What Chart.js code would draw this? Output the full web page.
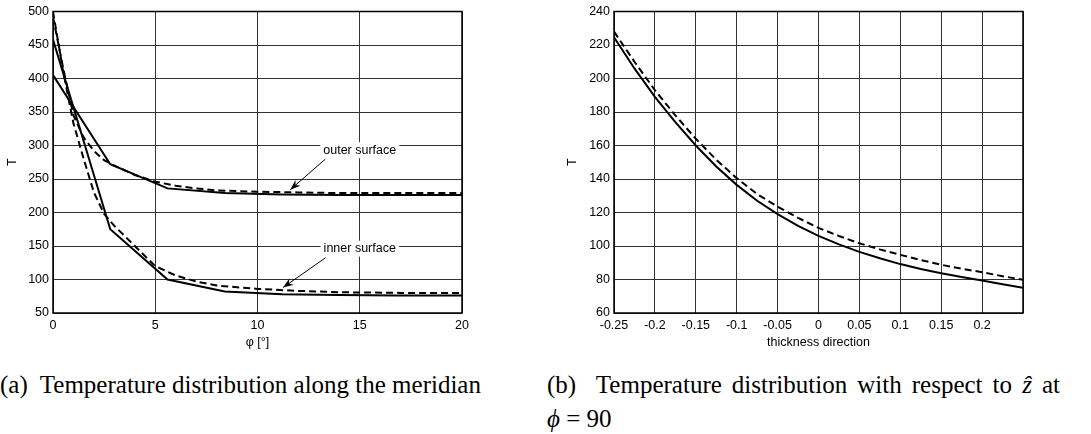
<!DOCTYPE html>
<html lang="en">
<head>
    <meta charset="UTF-8">
    <title>Temperature distribution</title>
    <script src="https://cdn.jsdelivr.net/npm/chart.js"></script>
    <style>
        body { margin: 0; background: #fff; width: 1091px; height: 434px; position: relative; overflow: hidden; }
        canvas { position: absolute; top: 0; }
        #chartA { left: 0; }
        #chartB { left: 560px; }
        .cap { position: absolute; font-family: "Liberation Serif", "Times New Roman", serif; font-size: 25px; line-height: 25px; color: #000; white-space: nowrap; }
        #capA { left: 0; top: 372px; }
        #capB1 { left: 547px; top: 372px; width: 513px; text-align: justify; text-align-last: justify; }
        #capB2 { left: 547px; top: 406px; }
    </style>
</head>
<body>
    <canvas id="chartA" width="480" height="355"></canvas>
    <canvas id="chartB" width="480" height="355"></canvas>
    <div class="cap" id="capA">(a)&nbsp; Temperature distribution along the meridian</div>
    <div class="cap" id="capB1">(b)&nbsp; Temperature distribution with respect to <i>ẑ</i> at</div>
    <div class="cap" id="capB2"><i>ϕ</i> = 90</div>

    <script>
        // (a) along the meridian, phi in degrees
        const phiSolid = [0, 2.8, 5.6, 8.4, 11.2, 14, 16.8, 20];
        const outerSolid = [405, 272, 236, 229, 227, 226, 226, 226];
        const innerSolid = [458, 175, 100, 82, 78, 77, 76, 76];

        const phiDash = [0, 0.5, 1, 1.5, 2, 2.5, 3, 4, 5, 6, 7, 8, 10, 12, 14, 17, 20];
        const outerDash = [492, 415, 345, 312, 292, 278, 270, 256, 246, 240, 236, 233, 231, 230, 229, 229, 229];
        const innerDash = [500, 410, 333, 280, 230, 198, 180, 150, 120, 106, 97, 91, 86, 83, 81, 80, 80];

        // (b) through the thickness at phi = 90
        const zPos = [-0.25, -0.225, -0.2, -0.175, -0.15, -0.125, -0.1, -0.075, -0.05, -0.025, 0,
                      0.025, 0.05, 0.075, 0.1, 0.125, 0.15, 0.175, 0.2, 0.225, 0.25];
        const zSolid = [224.6, 206, 189, 174, 160, 147.5, 136.5, 127, 119, 112, 106,
                        101, 96.5, 92.7, 89.2, 86.3, 83.7, 81.5, 79.4, 77.2, 75.1];
        const zDash = [228, 210, 193, 178, 164, 151.5, 140.5, 131, 123.5, 116.8, 110.8,
                       106, 101.6, 98, 94.7, 91.6, 88.8, 86.5, 84.3, 82, 79.8];

        // labels with arrows on chart (a): text centre and arrow tip in data units
        const notes = [
            { text: 'outer surface', at: [15.0, 293], tip: [11.6, 234] },
            { text: 'inner surface', at: [15.0, 146], tip: [11.25, 88] }
        ];

        Chart.defaults.font.family = '"Liberation Sans", Arial, sans-serif';
        Chart.defaults.font.size = 12.5;
        Chart.defaults.color = '#000';

        function pts(xs, ys) {
            return xs.map((x, i) => ({ x: x, y: ys[i] }));
        }

        function line(data, dashed) {
            return {
                data: data,
                borderColor: '#000',
                borderWidth: 2,
                borderDash: dashed ? [7, 4] : [],
                pointRadius: 0,
                tension: 0,
                fill: false
            };
        }

        // black frame round the plot area
        const frame = {
            id: 'frame',
            afterDraw(chart) {
                const a = chart.chartArea;
                const ctx = chart.ctx;
                ctx.save();
                ctx.strokeStyle = '#000';
                ctx.lineWidth = 1.5;
                ctx.strokeRect(a.left, a.top, a.right - a.left, a.bottom - a.top);
                ctx.restore();
            }
        };

        const arrows = {
            id: 'arrows',
            afterDatasetsDraw(chart) {
                const ctx = chart.ctx;
                const xs = chart.scales.x, ys = chart.scales.y;
                ctx.save();
                ctx.font = '12.5px "Liberation Sans", Arial, sans-serif';
                ctx.textAlign = 'center';
                ctx.textBaseline = 'middle';
                notes.forEach(n => {
                    const cx = xs.getPixelForValue(n.at[0]);
                    const cy = ys.getPixelForValue(n.at[1]);
                    const w = ctx.measureText(n.text).width;
                    ctx.fillStyle = '#fff';
                    ctx.fillRect(cx - w / 2 - 3, cy - 8, w + 6, 16);
                    ctx.fillStyle = '#000';
                    ctx.fillText(n.text, cx, cy);

                    const tx = xs.getPixelForValue(n.tip[0]);
                    const ty = ys.getPixelForValue(n.tip[1]);
                    const sx = cx - w / 2 + 2, sy = cy + 9;
                    const ang = Math.atan2(ty - sy, tx - sx);
                    ctx.strokeStyle = '#000';
                    ctx.lineWidth = 1;
                    ctx.beginPath();
                    ctx.moveTo(sx, sy);
                    ctx.lineTo(tx, ty);
                    ctx.stroke();
                    ctx.beginPath();
                    ctx.moveTo(tx, ty);
                    ctx.lineTo(tx - 11 * Math.cos(ang - 0.35), ty - 11 * Math.sin(ang - 0.35));
                    ctx.lineTo(tx - 7 * Math.cos(ang), ty - 7 * Math.sin(ang));
                    ctx.lineTo(tx - 11 * Math.cos(ang + 0.35), ty - 11 * Math.sin(ang + 0.35));
                    ctx.closePath();
                    ctx.fill();
                });
                ctx.restore();
            }
        };

        function axes(xMin, xMax, xStep, yMin, yMax, yStep, xTitle, yWidth, xFmt) {
            return {
                x: {
                    type: 'linear', min: xMin, max: xMax,
                    afterFit: s => { s.height = 42; },
                    grid: { color: '#333', lineWidth: 1, drawTicks: false },
                    border: { display: false },
                    ticks: { stepSize: xStep, padding: 5, maxRotation: 0, autoSkip: false, callback: xFmt },
                    title: { display: true, text: xTitle, padding: { top: 0, bottom: 5 } }
                },
                y: {
                    type: 'linear', min: yMin, max: yMax,
                    afterFit: s => { s.width = yWidth; },
                    grid: { color: '#333', lineWidth: 1, drawTicks: false },
                    border: { display: false },
                    ticks: { stepSize: yStep, padding: 4 },
                    title: { display: true, text: 'T', padding: { top: 5, bottom: 0 } }
                }
            };
        }

        const baseOpts = {
            responsive: false,
            animation: false,
            plugins: { legend: { display: false }, tooltip: { enabled: false } }
        };

        new Chart(document.getElementById('chartA'), {
            type: 'line',
            data: {
                datasets: [
                    line(pts(phiSolid, outerSolid), false),
                    line(pts(phiSolid, innerSolid), false),
                    line(pts(phiDash, outerDash), true),
                    line(pts(phiDash, innerDash), true)
                ]
            },
            options: Object.assign({}, baseOpts, {
                layout: { padding: { top: 8, right: 18, left: 0, bottom: 0 } },
                scales: axes(0, 20, 5, 50, 500, 50, 'φ [°]', 53, v => v)
            }),
            plugins: [frame, arrows]
        });

        new Chart(document.getElementById('chartB'), {
            type: 'line',
            data: {
                datasets: [
                    line(pts(zPos, zSolid), false),
                    line(pts(zPos, zDash), true)
                ]
            },
            options: Object.assign({}, baseOpts, {
                layout: { padding: { top: 8, right: 17, left: 0, bottom: 0 } },
                scales: axes(-0.25, 0.25, 0.05, 60, 240, 20, 'thickness direction', 54, v => {
                    const r = Math.round(v * 100) / 100;
                    if (r >= 0.25) return '';
                    return r === 0 ? '0' : String(r);
                })
            }),
            plugins: [frame]
        });
    </script>
</body>
</html>
